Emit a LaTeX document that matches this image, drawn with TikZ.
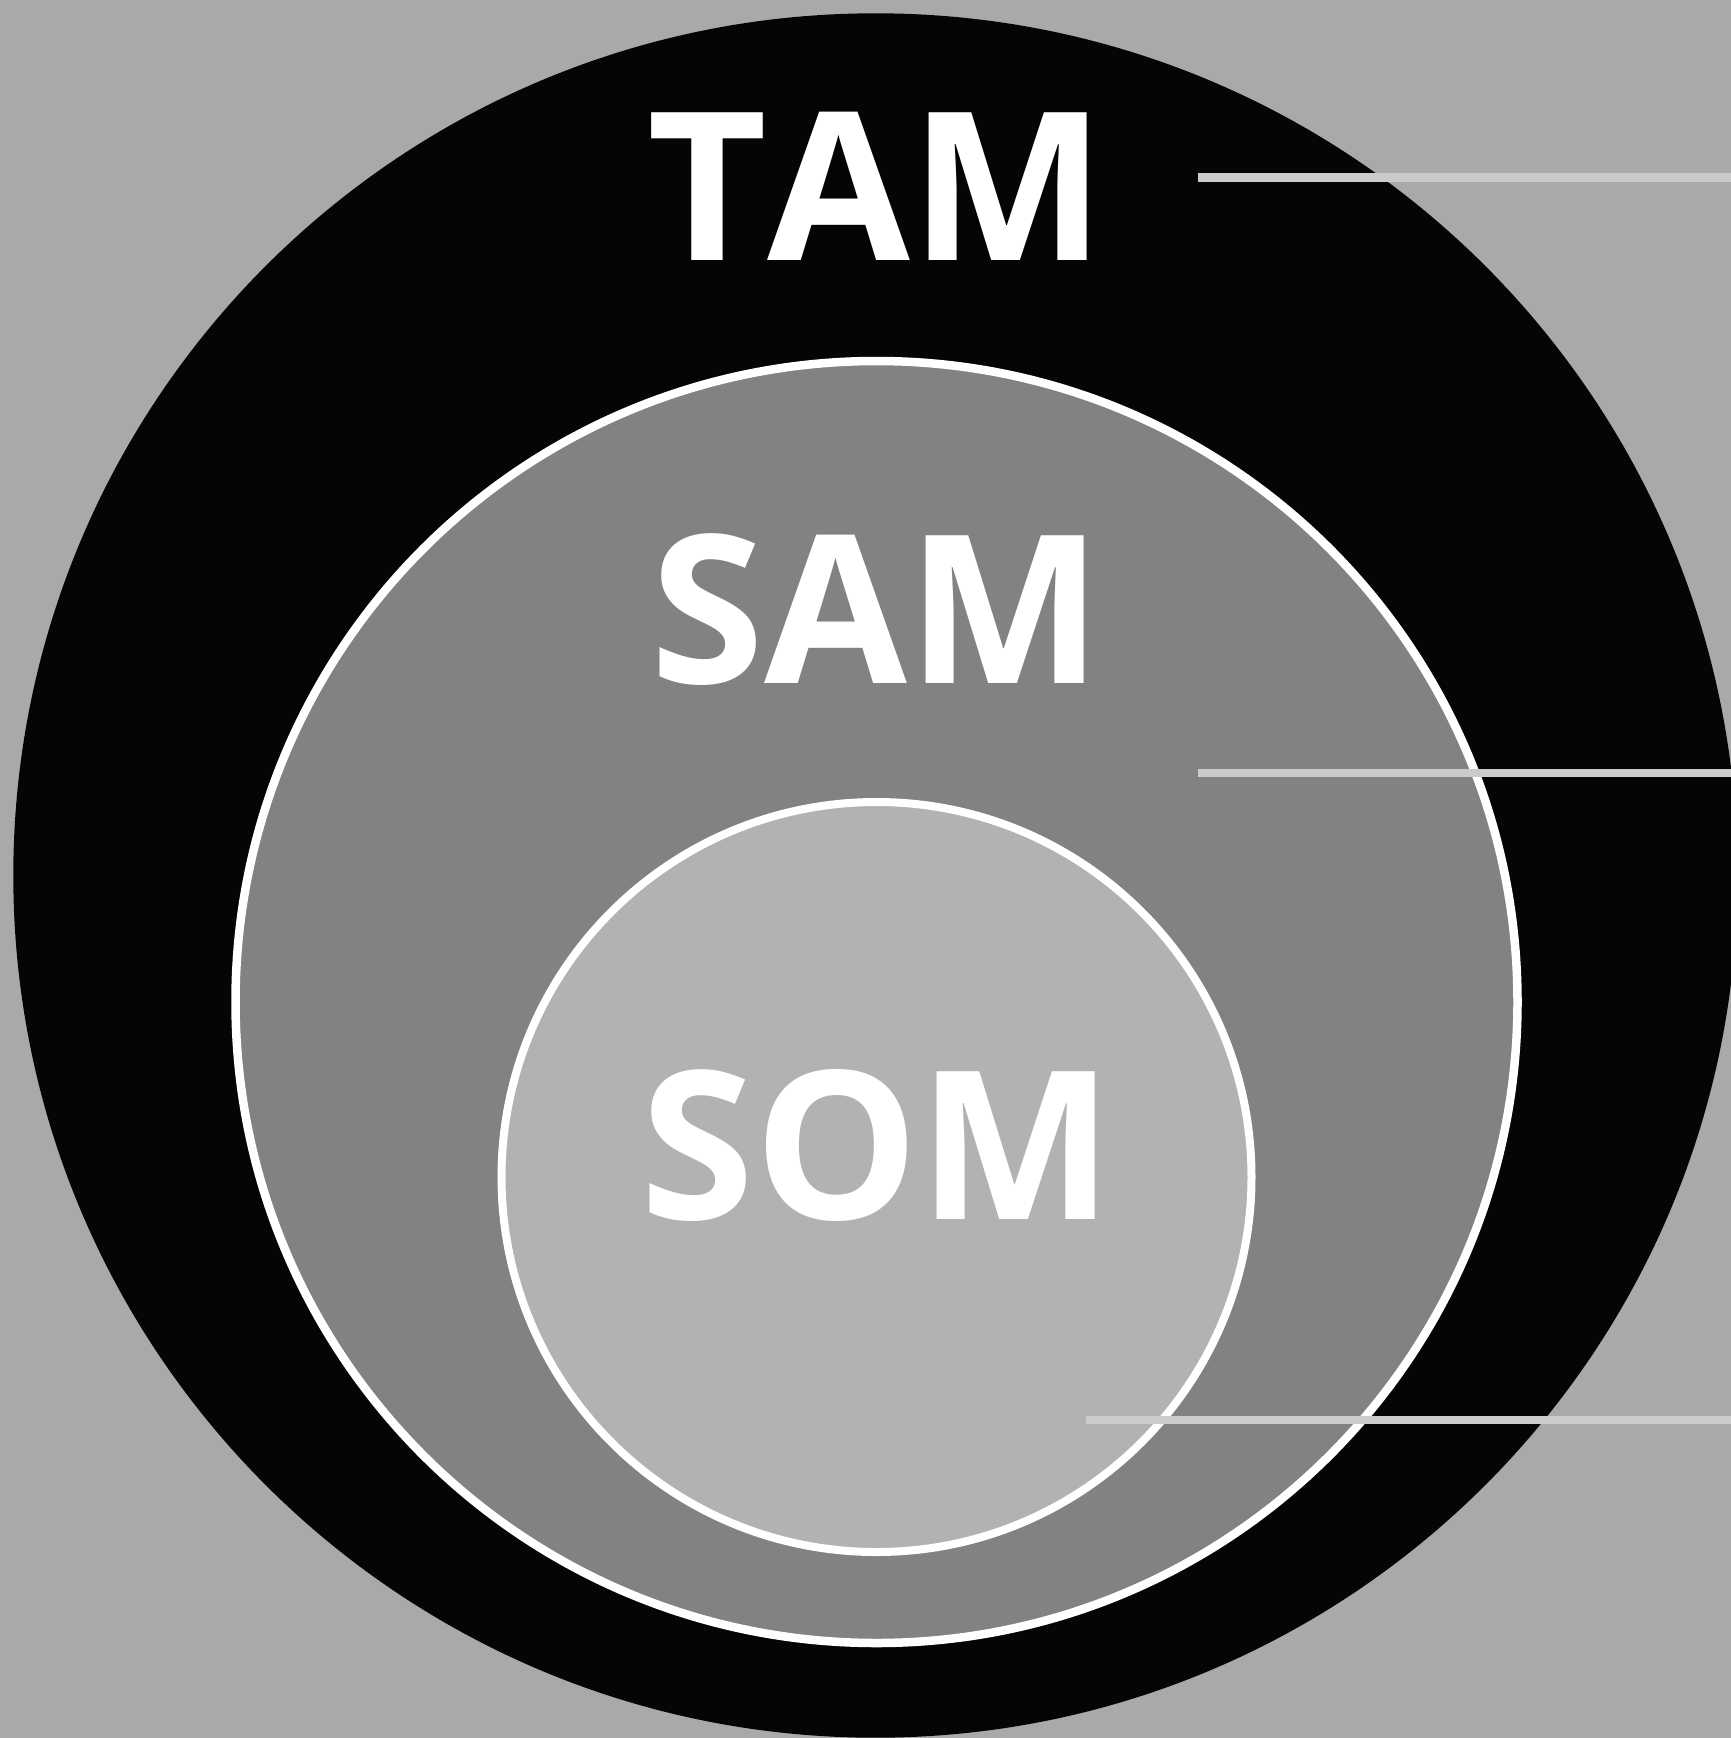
\documentclass[tikz,border=0pt]{standalone}
\usepackage{fontspec}
\newfontfamily\labelfont{Open Sans}
\definecolor{bggray}{HTML}{A9A9A9}
\definecolor{outerblack}{HTML}{050505}
\definecolor{midgray}{HTML}{828282}
\definecolor{innergray}{HTML}{B2B2B2}
\definecolor{linegray}{HTML}{CBCBCB}
\begin{document}
\begin{tikzpicture}[x=1pt,y=-1pt,
  ring/.style={circle,inner sep=0pt,outer sep=0pt},
  lbl/.style={anchor=base,inner sep=0pt,text=white,font=\labelfont\bfseries\fontsize{207}{207}\selectfont},
  conn/.style={draw=linegray,line width=8.4pt,line cap=butt}]
\fill[bggray] (0,0) rectangle (1731,1738);
\useasboundingbox (0,0) rectangle (1731,1738);
\node[ring,fill=outerblack,minimum size=1724.4pt] (tam) at (875.5,875.5) {};
\node[ring,fill=midgray,draw=white,line width=8.5pt,minimum size=1282pt] (sam) at (876.5,1002) {};
\node[ring,fill=innergray,draw=white,line width=8pt,minimum size=750pt] (som) at (876.5,1177) {};
\node[lbl] (tamlbl) at (876.5,260.7) {T\kern0pt AM};
\node[lbl] (samlbl) at (876.5,683.8) {SAM};
\node[lbl] (somlbl) at (877,1219) {SOM};
\coordinate (l1s) at (1198,177.5);
\coordinate (l1e) at (1731,177.5);
\coordinate (l2s) at (1198,773.2);
\coordinate (l2e) at (1731,773.2);
\coordinate (l3s) at (1086,1420);
\coordinate (l3e) at (1731,1420);
\draw[conn] (l1s) -- (l1e);
\draw[conn] (l2s) -- (l2e);
\draw[conn] (l3s) -- (l3e);
\end{tikzpicture}
\end{document}
